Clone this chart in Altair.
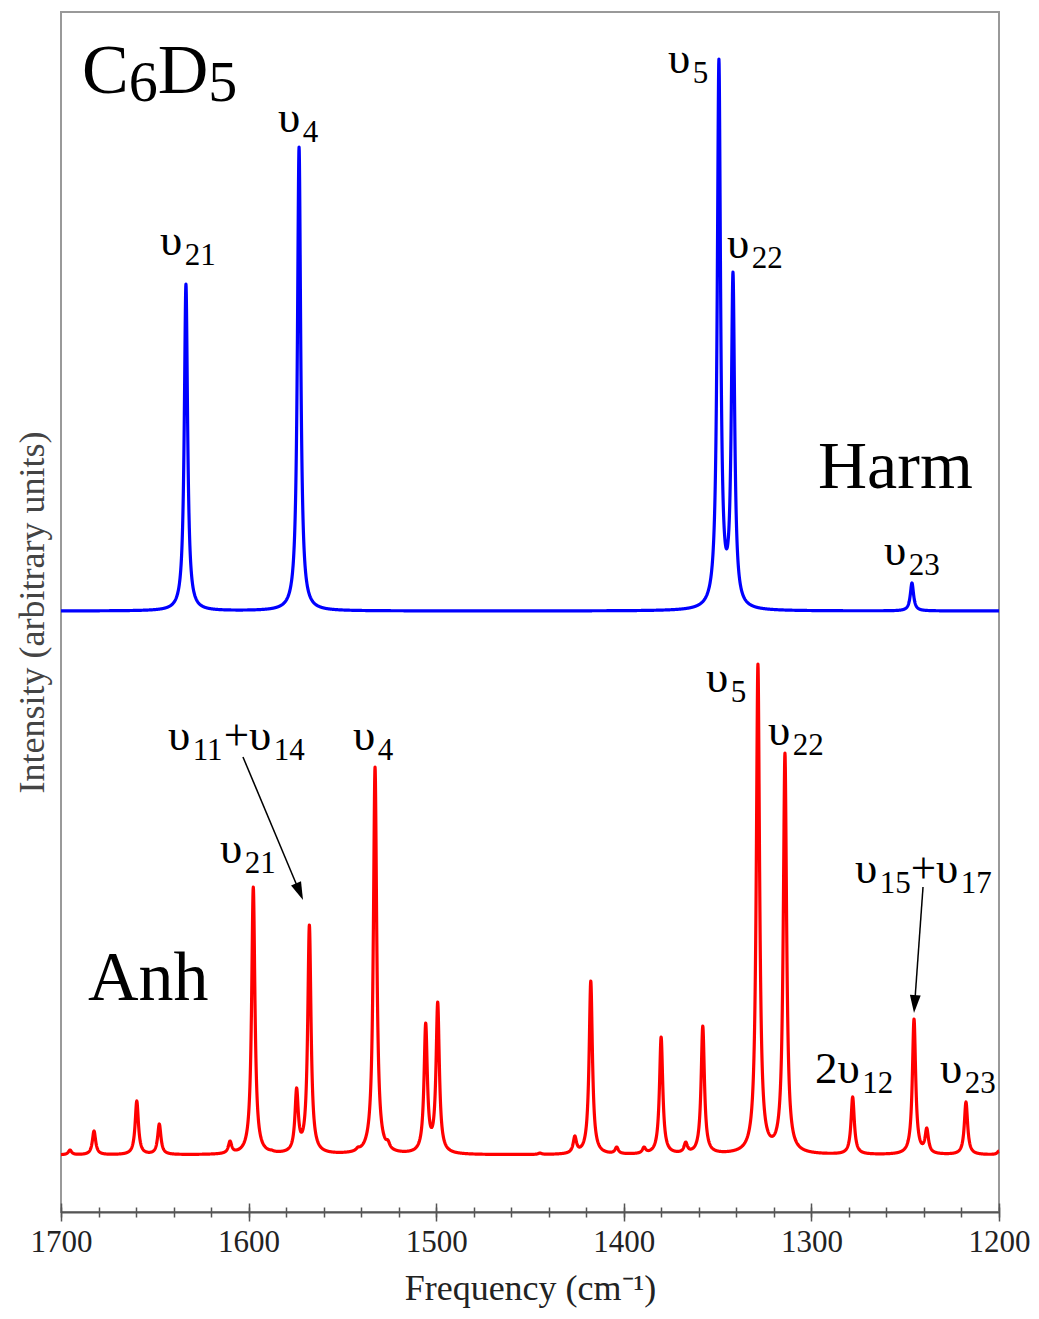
import altair as alt
import numpy as np
import pandas as pd

# ---------------- data ----------------
# peak centres (cm-1) and apex heights above the baseline (plot units)
harm_freq = [1633.4, 1573.1, 1349.3, 1341.8, 1246.4]
harm_height = [327, 464, 552, 339, 28]
harm_base = 601
harm_hwhm = 1.05

anh_freq = [1695.2, 1682.4, 1659.6, 1647.6, 1609.9, 1597.5, 1587.7, 1574.4,
            1567.6, 1541.7, 1532.6, 1525.7, 1505.6, 1499.2, 1444.7, 1426.1,
            1417.6, 1403.8, 1389.2, 1380.1, 1367.0, 1357.9, 1328.5, 1314.1,
            1278.0, 1245.3, 1238.5, 1217.6, 1200.0]
anh_height = [5, 24, 54, 31, 14, 268, 5, 67,
              230, 8, 388, 15, 132, 153, 2, 19,
              174, 8, 8, 118, 13, 129, 491, 402,
              58, 136, 27, 53, 4]
anh_base = 57
anh_hwhm = 1.05

x_labels = [1700, 1600, 1500, 1400, 1300, 1200]
x_minor = list(range(1200, 1701, 20))

# annotation labels: segments separated by "|", "_" marks a subscript
label_text = ["C|_6|D|_5", "Harm", "Anh",
              "υ|_4", "υ|_21", "υ|_5", "υ|_22", "υ|_23",
              "υ|_11|+υ|_14", "υ|_4", "υ|_21", "υ|_5", "υ|_22",
              "υ|_15|+υ|_17", "2υ|_12", "υ|_23"]
label_freq = [1688.8, 1296.5, 1685.6,
              1584.3, 1647.2, 1376.4, 1345.0, 1261.3,
              1643.0, 1544.4, 1615.2, 1356.2, 1323.1,
              1276.8, 1298.1, 1231.4]
label_y = [1119, 724, 212,
           1080, 957, 1139, 954, 647,
           462, 462, 349, 520, 467,
           329, 129, 129]
label_main_size = [70, 68, 70] + [45] * 13
label_sub_size = [58, 0, 0] + [31] * 13
label_drop = [8, 0, 0] + [10] * 13

# arrows: start (freq, y) -> tip (freq, y)
arrow_x1 = [1603.0, 1240.5]
arrow_y1 = [455, 325]
arrow_x2 = [1571.0, 1245.3]
arrow_y2 = [312, 199]

# ---------------- geometry helpers ----------------
PLOT_W, PLOT_H = 938, 1200
PX_PER_UNIT = PLOT_W / 500.0


def spectrum(centres, heights, base, g):
    c = np.array(centres, float)
    h = np.array(heights, float)
    A = 1.0 / (1.0 + ((c[:, None] - c[None, :]) / g) ** 2)
    amp = np.clip(np.linalg.solve(A, h), 0.3, None)
    xs = np.union1d(np.round(np.arange(1200, 1700.0001, 0.1), 2), c)
    ys = base + (amp[None, :] / (1.0 + ((xs[:, None] - c[None, :]) / g) ** 2)).sum(axis=1)
    return pd.DataFrame({"freq": np.round(xs, 2), "intensity": np.round(ys, 2)})


harm_df = spectrum(harm_freq, harm_height, harm_base, harm_hwhm)
anh_df = spectrum(anh_freq, anh_height, anh_base, anh_hwhm)

WIDTH_EM = {"υ": 0.55, "+": 0.564, "C": 0.667, "D": 0.722, "H": 0.722,
            "a": 0.444, "r": 0.333, "m": 0.778, "A": 0.722, "n": 0.5, "h": 0.5}

rows = []
for txt, f0, y0, ms, ss, drop in zip(label_text, label_freq, label_y,
                                      label_main_size, label_sub_size, label_drop):
    off = 0.0
    for seg in txt.split("|"):
        sub = seg.startswith("_")
        s = seg[1:] if sub else seg
        size = ss if sub else ms
        rows.append({"freq": f0 - off / PX_PER_UNIT,
                     "y": y0 - (drop if sub else 0),
                     "text": s, "size": size})
        off += sum(WIDTH_EM.get(ch, 0.5) for ch in s) * size
text_df = pd.DataFrame(rows)

HEAD_LEN = 18
rule_rows, head_rows = [], []
for x1, y1, x2, y2 in zip(arrow_x1, arrow_y1, arrow_x2, arrow_y2):
    dxp = (x1 - x2) * PX_PER_UNIT      # screen dx (reversed axis)
    dyp = (y1 - y2)                    # screen dy (down positive)
    L = np.hypot(dxp, dyp)
    ux, uy = dxp / L, dyp / L
    cx = x2 + (ux * HEAD_LEN / 2) / PX_PER_UNIT
    cy = y2 + uy * HEAD_LEN / 2
    ang = (-np.degrees(np.arcsin(ux))) % 360
    rule_rows.append({"x1": x1, "y1": y1, "x2": cx, "y2": cy})
    head_rows.append({"x": cx, "y": cy, "angle": round(float(ang), 2)})
rule_df = pd.DataFrame(rule_rows)
head_df = pd.DataFrame(head_rows)

FONT = "Liberation Serif"
xscale = alt.Scale(domain=[1200, 1700], reverse=True, nice=False, zero=False)
yscale = alt.Scale(domain=[0, 1200], nice=False, zero=False)

label_axis = alt.Axis(values=x_labels, format="d", ticks=False, domain=True,
                      domainColor="#555", domainWidth=2, labelFont=FONT,
                      labelFontSize=31, labelColor="#222", labelPadding=15,
                      labelFlush=False, labelOverlap=False, grid=False,
                      title="Frequency (cm⁻¹)", titleFont=FONT, titleFontSize=36,
                      titleFontWeight="normal", titleColor="#222", titlePadding=14,
                      orient="bottom")
major_axis = alt.Axis(values=x_labels, labels=False, domain=False, ticks=True,
                      tickSize=18, tickWidth=1.5, tickColor="#555", offset=-9,
                      grid=False, title=None, orient="bottom")
minor_axis = alt.Axis(values=x_minor, labels=False, domain=False, ticks=True,
                      tickSize=10, tickWidth=1.5, tickColor="#555", offset=-5,
                      grid=False, title=None, orient="bottom")
y_axis = alt.Axis(labels=False, ticks=False, domain=False, grid=False,
                  title="Intensity (arbitrary units)", titleFont=FONT,
                  titleFontSize=36, titleFontWeight="normal", titleColor="#444",
                  titlePadding=10)
Y_TITLE = "Intensity (arbitrary units)"

blue = alt.Chart(harm_df).mark_line(color="#0000ff", strokeWidth=3.2,
                                    strokeJoin="round").encode(
    x=alt.X("freq:Q", scale=xscale, axis=label_axis),
    y=alt.Y("intensity:Q", scale=yscale, axis=y_axis, title=Y_TITLE),
)
red = alt.Chart(anh_df).mark_line(color="#ff0000", strokeWidth=3.2,
                                  strokeJoin="round").encode(
    x=alt.X("freq:Q", scale=xscale, axis=major_axis),
    y=alt.Y("intensity:Q", scale=yscale, axis=y_axis, title=Y_TITLE),
)
texts = alt.Chart(text_df).mark_text(align="left", baseline="alphabetic",
                                     font=FONT, color="black").encode(
    x=alt.X("freq:Q", scale=xscale, axis=minor_axis),
    y=alt.Y("y:Q", scale=yscale, axis=y_axis, title=Y_TITLE),
    text="text:N",
    size=alt.Size("size:Q", scale=None),
)
rules = alt.Chart(rule_df).mark_rule(color="black", strokeWidth=1.5).encode(
    x=alt.X("x1:Q", scale=xscale, axis=None),
    y=alt.Y("y1:Q", scale=yscale, axis=y_axis, title=Y_TITLE),
    x2="x2:Q", y2="y2:Q",
)
heads = alt.Chart(head_df).mark_point(
    shape="M0,1 L-0.6,-1 L0.6,-1 Z", filled=True, color="black",
    opacity=1, size=HEAD_LEN * HEAD_LEN, strokeWidth=0).encode(
    x=alt.X("x:Q", scale=xscale, axis=None),
    y=alt.Y("y:Q", scale=yscale, axis=y_axis, title=Y_TITLE),
    angle=alt.Angle("angle:Q", scale=None),
)

chart = alt.layer(blue, red, texts, rules, heads).resolve_axis(
    x="independent").properties(
    width=PLOT_W, height=PLOT_H,
    autosize=alt.AutoSizeParams(type="none"),
    padding={"left": 53, "top": 4, "right": 32, "bottom": 98},
    background="white",
).configure_view(stroke="#999", strokeWidth=2).configure_axis(
    labelFont=FONT, labelFontSize=31, labelColor="#222",
    titleFont=FONT, titleFontWeight="normal",
)

chart.save("out.html", embed_options={"renderer": "svg", "actions": False})
